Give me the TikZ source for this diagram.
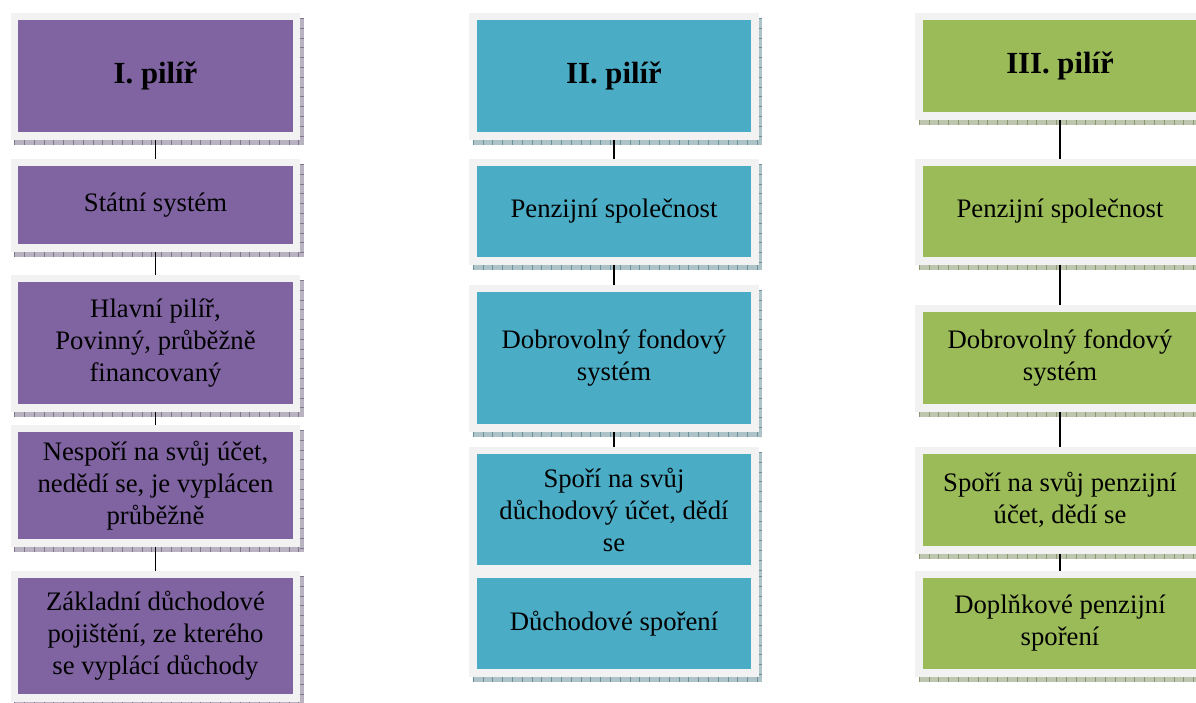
\documentclass[tikz,border=0pt]{standalone}
\usepackage{fontspec}
\setmainfont{Liberation Serif}
\usetikzlibrary{backgrounds}

\definecolor{pilOne}{HTML}{8064A2}
\definecolor{pilTwo}{HTML}{4BACC6}
\definecolor{pilThree}{HTML}{9BBB59}
\definecolor{frameGrey}{HTML}{F2F2F2}

\begin{document}
\begin{tikzpicture}[
    x=1pt, y=-1pt,
    pbox/.style={rectangle, draw=frameGrey, line width=7.5pt, inner sep=0pt,
                 align=center, minimum width=282pt,
                 font=\fontsize{26.7}{32}\selectfont},
    phead/.style={pbox, font=\fontsize{30.7}{37}\selectfont\bfseries},
    link/.style={line width=1.3pt, black}
]
    \useasboundingbox (0,0) rectangle (1196,702);

    % I. pilir
    \node[pbox, phead, fill=pilOne, minimum height=119.5pt] (c1a) at (155.5,76) {I. pilíř};
    \node[pbox, fill=pilOne, minimum height=85.5pt]  (c1b) at (155.5,205) {Státní systém};
    \node[pbox, fill=pilOne, minimum height=129.5pt] (c1c) at (155.5,343) {Hlavní pilíř,\\ Povinný, průběžně\\ financovaný};
    \node[pbox, fill=pilOne, minimum height=114.5pt] (c1d) at (155.5,485.5) {Nespoří na svůj účet,\\ nedědí se, je vyplácen\\ průběžně};
    \node[pbox, fill=pilOne, minimum height=123.5pt] (c1e) at (155.5,636) {Základní důchodové\\ pojištění, ze kterého\\ se vyplácí důchody};

    % II. pilir
    \node[pbox, phead, fill=pilTwo, minimum height=119.5pt] (c2a) at (614,76) {II. pilíř};
    \node[pbox, fill=pilTwo, minimum height=98.5pt]  (c2b) at (614,211.5) {Penzijní společnost};
    \node[pbox, fill=pilTwo, minimum height=139.5pt] (c2c) at (614,358) {Dobrovolný fondový\\ systém};
    \node[pbox, fill=pilTwo, minimum height=118.5pt] (c2d) at (614,509.5) {Spoří na svůj\\ důchodový účet, dědí\\ se};
    \node[pbox, fill=pilTwo, minimum height=98.5pt]  (c2e) at (614,623.5) {Důchodové spoření};

    % III. pilir
    \node[pbox, phead, fill=pilThree, minimum height=99.5pt] (c3a) at (1060,66) {III. pilíř};
    \node[pbox, fill=pilThree, minimum height=98.5pt] (c3b) at (1060,211.5) {Penzijní společnost};
    \node[pbox, fill=pilThree, minimum height=99.5pt] (c3c) at (1060,358) {Dobrovolný fondový\\ systém};
    \node[pbox, fill=pilThree, minimum height=99.5pt] (c3d) at (1060,500) {Spoří na svůj penzijní\\ účet, dědí se};
    \node[pbox, fill=pilThree, minimum height=98.5pt] (c3e) at (1060,623.5) {Doplňkové penzijní\\ spoření};

    % shadows behind the boxes
    \begin{scope}[on background layer]
    \foreach \n/\c in {c1a/pilOne, c1b/pilOne, c1c/pilOne, c1d/pilOne, c1e/pilOne,
                       c2a/pilTwo, c2b/pilTwo, c2c/pilTwo, c2d/pilTwo, c2e/pilTwo,
                       c3a/pilThree, c3b/pilThree, c3c/pilThree, c3d/pilThree, c3e/pilThree} {
        \fill[\c!40!gray!55] ([shift={(3.5pt,-5.5pt)}]\n.south west) rectangle ([shift={(3.5pt,-5.5pt)}]\n.north east);
        \draw[\c!40!gray, line width=5pt, dash pattern=on 0.8pt off 9pt]
            ([shift={(3.5pt,-2.75pt)}]\n.south west) -- ([shift={(3.5pt,-2.75pt)}]\n.south east);
        \draw[\c!40!gray, line width=3.5pt, dash pattern=on 0.8pt off 9pt]
            ([shift={(1.75pt,-5.5pt)}]\n.north east) -- ([shift={(1.75pt,-5.5pt)}]\n.south east);
    }
    \end{scope}

    % connectors
    \draw[link] (c1a.south) -- (c1b.north);
    \draw[link] (c1b.south) -- (c1c.north);
    \draw[link] (c1c.south) -- (c1d.north);
    \draw[link] (c1d.south) -- (c1e.north);
    \draw[link] (c2a.south) -- (c2b.north);
    \draw[link] (c2b.south) -- (c2c.north);
    \draw[link] (c2c.south) -- (c2d.north);
    \draw[link] (c3a.south) -- (c3b.north);
    \draw[link] (c3b.south) -- (c3c.north);
    \draw[link] (c3c.south) -- (c3d.north);
    \draw[link] (c3d.south) -- (c3e.north);
\end{tikzpicture}
\end{document}
